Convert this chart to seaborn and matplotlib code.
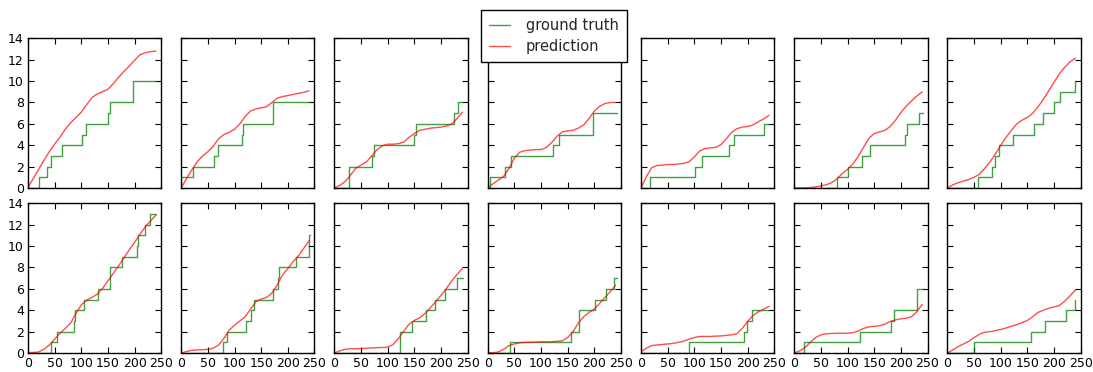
import numpy as np
import pandas as pd
import matplotlib
matplotlib.use('Agg')
import matplotlib.pyplot as plt
import seaborn as sns

# prediction curves, read every 10 steps from 0 to 240
pred_x = list(range(0, 250, 10))

pred_1 = [0.05, 0.9, 1.75, 2.6, 3.4, 4.1, 4.75, 5.5, 6.1, 6.6, 7.1, 7.8, 8.45, 8.8, 9.0, 9.25, 9.75, 10.35, 10.9, 11.4, 11.95, 12.45, 12.65, 12.75, 12.8]
pred_2 = [0, 0.9, 1.7, 2.45, 3.0, 3.4, 3.9, 4.6, 5.0, 5.2, 5.5, 6.0, 6.7, 7.2, 7.4, 7.5, 7.6, 8.0, 8.4, 8.55, 8.65, 8.75, 8.85, 8.95, 9.1]
pred_3 = [0, 0.25, 0.6, 1.2, 1.85, 2.15, 2.45, 3.0, 3.6, 3.95, 4.1, 4.1, 4.15, 4.3, 4.75, 5.1, 5.4, 5.5, 5.6, 5.65, 5.7, 5.8, 6.0, 6.5, 7.1]
pred_4 = [0, 0.4, 0.75, 1.1, 1.85, 2.8, 3.35, 3.5, 3.55, 3.6, 3.6, 3.8, 4.25, 4.85, 5.25, 5.35, 5.4, 5.6, 5.9, 6.5, 7.2, 7.65, 7.9, 8.0, 8.0]
pred_5 = [0, 1.05, 1.9, 2.1, 2.15, 2.2, 2.2, 2.25, 2.3, 2.45, 2.9, 3.45, 3.7, 3.75, 3.8, 4.05, 4.6, 5.2, 5.55, 5.7, 5.75, 5.9, 6.2, 6.45, 6.8]
pred_6 = [0, 0.0, 0.02, 0.05, 0.1, 0.2, 0.3, 0.5, 0.85, 1.35, 1.75, 2.25, 2.95, 3.8, 4.65, 5.1, 5.25, 5.4, 5.75, 6.35, 7.05, 7.65, 8.15, 8.6, 9.0]
pred_7 = [0, 0.3, 0.5, 0.65, 0.8, 1.0, 1.3, 1.85, 2.45, 3.2, 4.0, 4.75, 5.4, 6.0, 6.35, 6.6, 7.0, 7.6, 8.3, 9.1, 9.9, 10.7, 11.3, 11.8, 12.15]
pred_8 = [0.05, 0.05, 0.1, 0.35, 0.75, 1.3, 1.85, 2.3, 2.8, 3.7, 4.5, 4.95, 5.2, 5.5, 6.05, 6.75, 7.45, 8.15, 8.9, 9.65, 10.35, 11.1, 11.8, 12.35, 12.9]
pred_9 = [0, 0.15, 0.25, 0.3, 0.3, 0.35, 0.45, 0.75, 1.35, 2.15, 2.6, 3.0, 3.4, 4.1, 4.8, 5.05, 5.2, 5.6, 6.35, 7.3, 7.9, 8.55, 9.1, 9.8, 10.5]
pred_10 = [0, 0.2, 0.35, 0.4, 0.4, 0.42, 0.45, 0.48, 0.5, 0.52, 0.55, 0.8, 1.35, 2.05, 2.7, 3.05, 3.3, 3.7, 4.25, 4.8, 5.4, 6.05, 6.75, 7.35, 7.9]
pred_11 = [0, 0.03, 0.1, 0.35, 0.7, 0.85, 0.95, 1.0, 1.0, 1.02, 1.05, 1.05, 1.05, 1.1, 1.15, 1.45, 2.0, 2.8, 3.4, 3.8, 4.1, 4.65, 5.2, 5.75, 6.35]
pred_12 = [0.1, 0.45, 0.7, 0.75, 0.8, 0.85, 0.9, 1.0, 1.1, 1.3, 1.45, 1.55, 1.55, 1.55, 1.58, 1.6, 1.65, 1.7, 1.8, 2.3, 2.95, 3.5, 3.85, 4.1, 4.35]
pred_13 = [0, 0.2, 0.5, 1.0, 1.45, 1.7, 1.8, 1.83, 1.85, 1.85, 1.85, 1.9, 2.05, 2.3, 2.45, 2.5, 2.55, 2.7, 2.95, 3.1, 3.2, 3.25, 3.4, 3.85, 4.55]
pred_14 = [0, 0.3, 0.6, 0.85, 1.1, 1.45, 1.75, 1.95, 2.0, 2.1, 2.2, 2.35, 2.5, 2.65, 2.85, 3.05, 3.4, 3.8, 4.0, 4.2, 4.3, 4.45, 4.85, 5.35, 5.9]

# ground truth event times (repeated time = jump of 2), and end of each series
events_1 = [20, 35, 44, 64, 102, 109, 151, 154, 197, 197]
events_2 = [0, 23, 61, 69, 114, 116, 173, 173]
events_3 = [27, 27, 70, 75, 149, 152, 225, 231]
events_4 = [4, 32, 43, 123, 133, 198, 198]
events_5 = [17, 101, 115, 166, 174, 231]
events_6 = [80, 100, 127, 143, 207, 211, 234]
events_7 = [57, 83, 90, 96, 122, 162, 179, 200, 211, 239]
events_8 = [44, 54, 87, 89, 106, 131, 153, 153, 177, 204, 206, 219, 228]
events_9 = [78, 85, 122, 130, 137, 172, 181, 184, 216, 239, 239]
events_10 = [122, 122, 146, 172, 189, 207, 230]
events_11 = [42, 157, 172, 172, 202, 222, 237]
events_12 = [91, 194, 199, 209]
events_13 = [19, 124, 181, 187, 230, 230]
events_14 = [49, 157, 183, 222, 239]
end_times = [241, 242, 242, 242, 240, 242, 240, 240, 242, 242, 242, 240, 242, 240]

preds = [pred_1, pred_2, pred_3, pred_4, pred_5, pred_6, pred_7,
         pred_8, pred_9, pred_10, pred_11, pred_12, pred_13, pred_14]
events = [events_1, events_2, events_3, events_4, events_5, events_6, events_7,
          events_8, events_9, events_10, events_11, events_12, events_13, events_14]

sns.set_style('ticks')
plt.rcParams.update({'font.size': 9, 'axes.edgecolor': 'black',
                     'axes.linewidth': 1.0,
                     'xtick.direction': 'in', 'ytick.direction': 'in',
                     'xtick.top': True, 'ytick.right': True,
                     'xtick.color': 'black', 'ytick.color': 'black',
                     'xtick.major.size': 4, 'ytick.major.size': 4})

fig, axes = plt.subplots(2, 7, figsize=(10.93, 3.72), dpi=100, sharex=True, sharey=True)
fig.subplots_adjust(left=0.0256, right=0.9888, top=0.897, bottom=0.051,
                    wspace=0.15, hspace=0.102)

for i, ax in enumerate(axes.flat):
    ev = events[i]
    gt = pd.DataFrame({'t': [0] + ev + [end_times[i]],
                       'n': list(range(len(ev) + 1)) + [len(ev)]})
    pr = pd.DataFrame({'t': pred_x, 'v': preds[i]})
    sns.lineplot(data=gt, x='t', y='n', ax=ax, estimator=None, sort=False,
                 drawstyle='steps-post', color='g', alpha=0.75, lw=1,
                 label='ground truth')
    sns.lineplot(data=pr, x='t', y='v', ax=ax, estimator=None, sort=False,
                 color='red', alpha=0.7, lw=1, label='prediction')
    if ax.get_legend() is not None:
        ax.get_legend().remove()
    ax.set_xlim(0, 250)
    ax.set_ylim(0, 14)
    ax.set_xticks([0, 50, 100, 150, 200, 250])
    ax.set_yticks(range(0, 15, 2))
    ax.set_xlabel('')
    ax.set_ylabel('')
    ax.tick_params(labelsize=9, pad=3)

handles, labels = axes[0, 0].get_legend_handles_labels()
fig.legend(handles, labels, loc='upper center', bbox_to_anchor=(0.507, 0.993),
           fontsize=10.5, frameon=True, fancybox=False, framealpha=1,
           edgecolor='black', handlelength=1.4, handletextpad=1.1,
           borderpad=0.55, labelspacing=0.45)

plt.savefig('out.png', dpi=100)
